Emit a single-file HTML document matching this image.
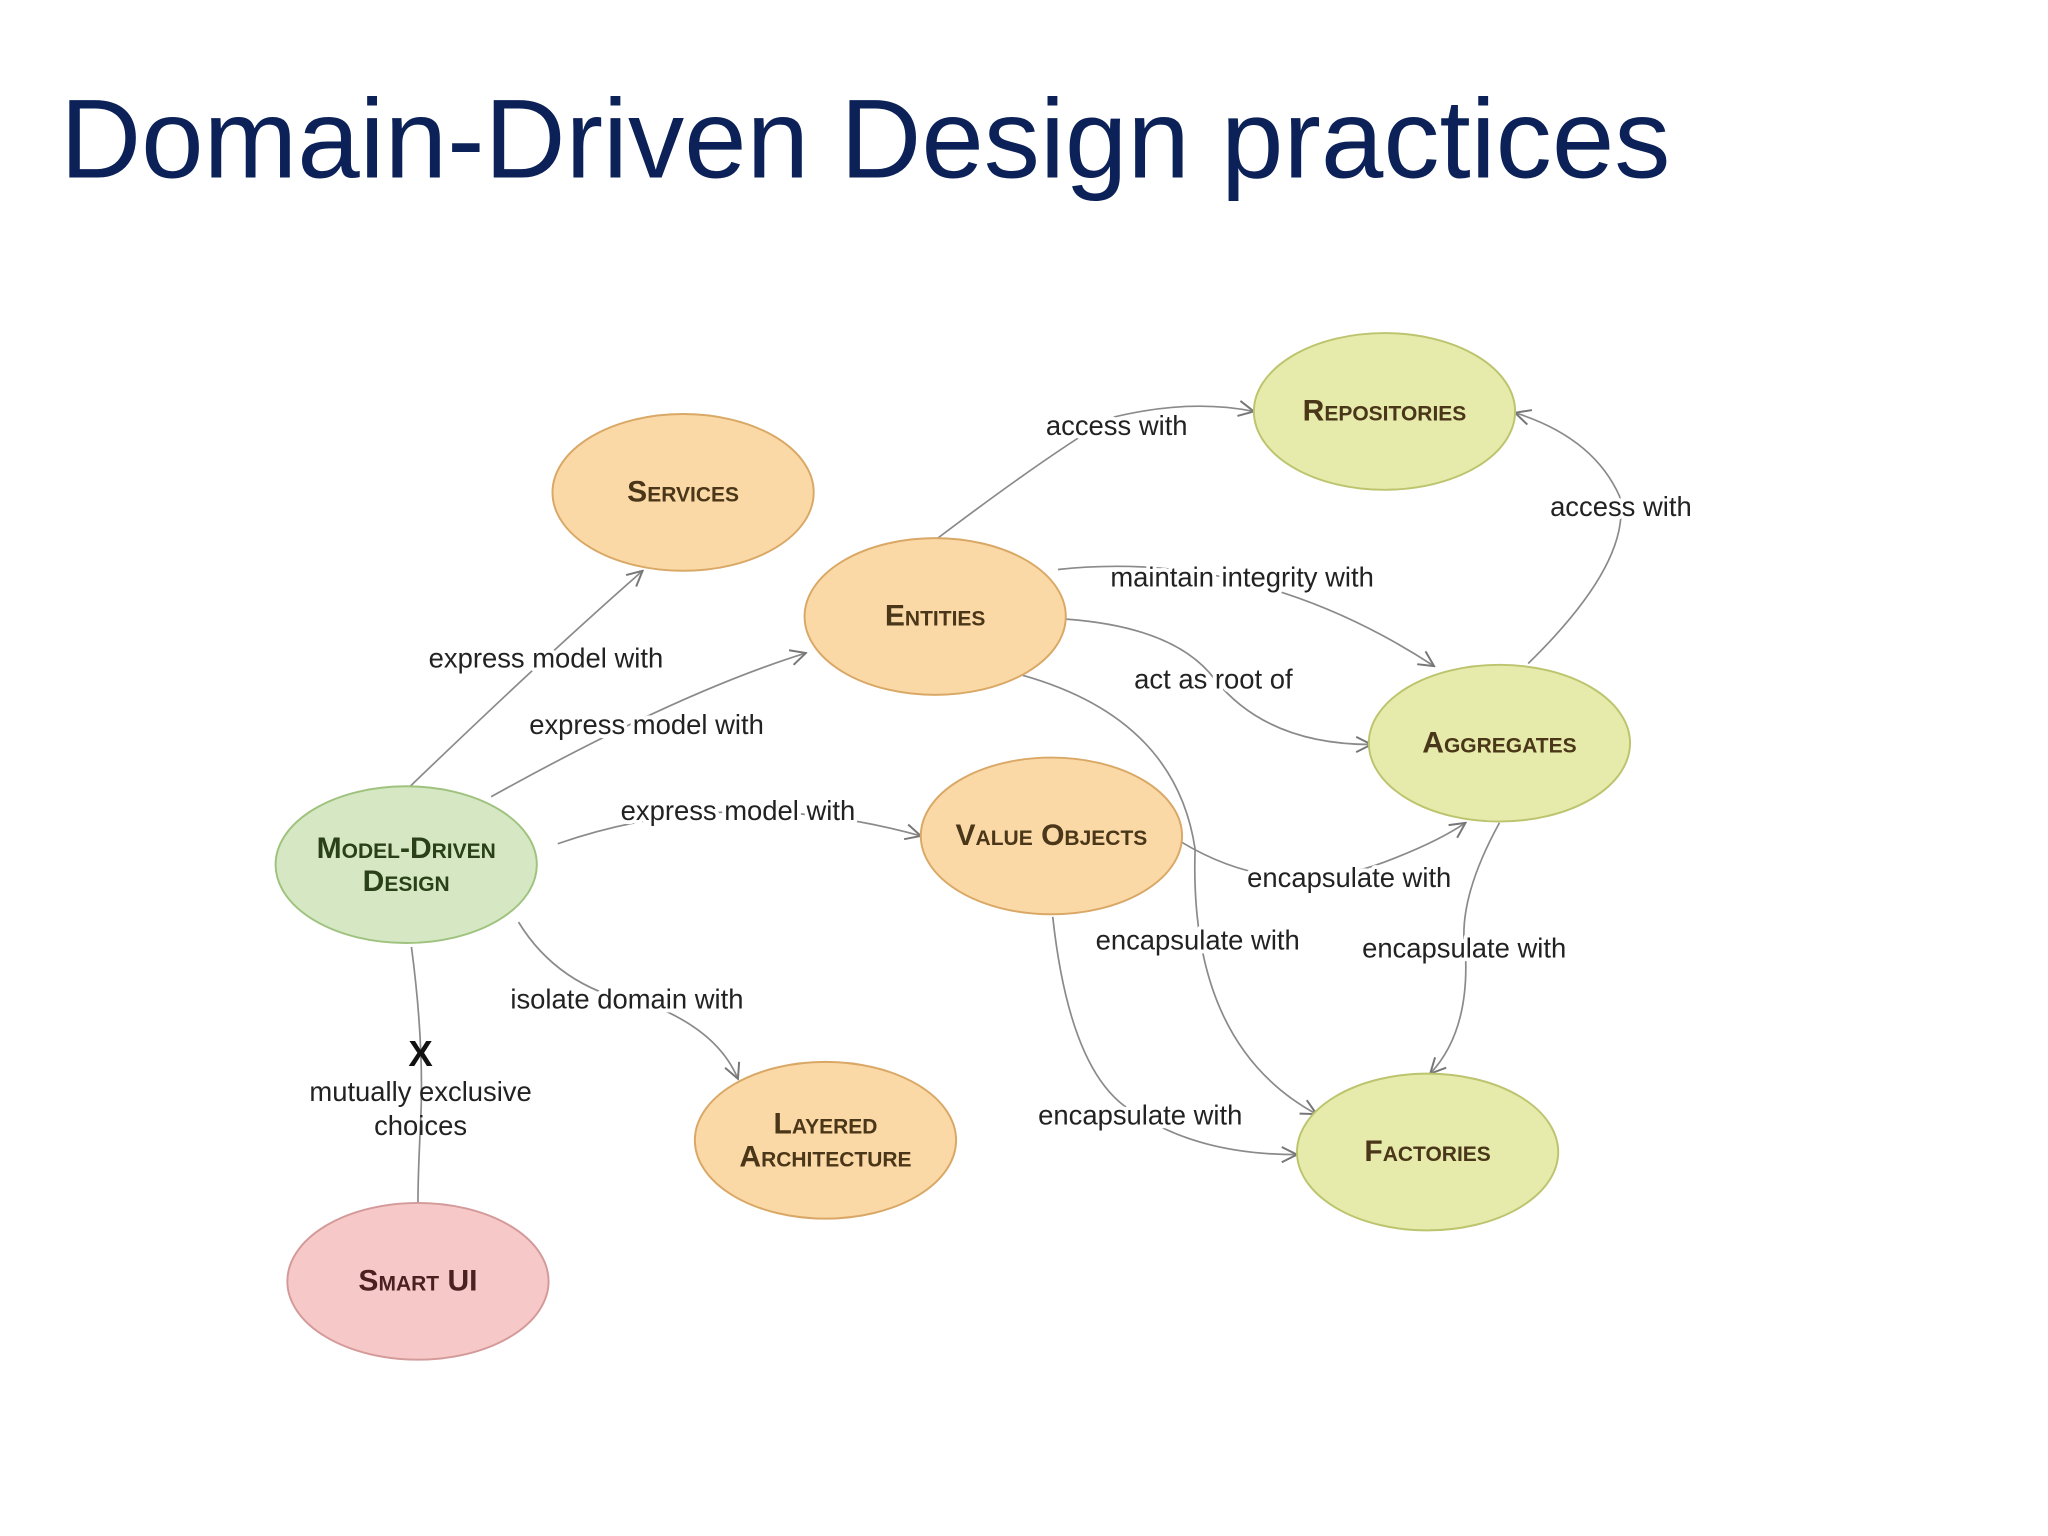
<!DOCTYPE html>
<html><head><meta charset="utf-8"><style>
html,body{margin:0;padding:0;background:#fff}
svg{display:block}
.t{font-family:"Liberation Sans",sans-serif;font-size:21px;fill:#222;text-anchor:middle;paint-order:stroke;stroke:#fff;stroke-width:6px;stroke-linejoin:round}
.n{font-family:"Liberation Sans",sans-serif;font-weight:bold;font-variant:small-caps;font-size:23px;fill:#4a3618;text-anchor:middle}
.e{fill:none;stroke:#8a8a8a;stroke-width:1.3}
</style></head><body>
<svg width="2048" height="1536" viewBox="0 0 1568 1176" xmlns="http://www.w3.org/2000/svg">
<defs><marker id="a" viewBox="0 0 12 12" refX="11" refY="6" markerWidth="14" markerHeight="14" orient="auto" markerUnits="userSpaceOnUse"><polyline points="1,1 11,6 1,11" fill="none" stroke="#777" stroke-width="1.3"/></marker></defs>
<rect width="1568" height="1176" fill="#fff"/>
<text x="46" y="136" font-family="Liberation Sans, sans-serif" font-size="86" fill="#0b2157">Domain-Driven Design practices</text>
<g class="e">
<path d="M313,603 Q420,500 492,437" marker-end="url(#a)"/>
<path d="M376,610 Q520,530 617,500" marker-end="url(#a)"/>
<path d="M427,646 Q560,600 705,640" marker-end="url(#a)"/>
<path d="M397,706 Q430,760 500,770 Q550,790 565,826" marker-end="url(#a)"/>
<path d="M315,725 Q325,800 322,860 Q320,900 320,921"/>
<path d="M718,412 Q800,350 850,320 Q910,305 960,315" marker-end="url(#a)"/>
<path d="M1170,508 Q1250,430 1240,380 Q1220,335 1160,316" marker-end="url(#a)"/>
<path d="M810,436 Q960,420 1098,510" marker-end="url(#a)"/>
<path d="M816,474 Q900,480 930,520 Q970,570 1050,570" marker-end="url(#a)"/>
<path d="M905,645 Q980,690 1060,660 Q1100,645 1122,630" marker-end="url(#a)"/>
<path d="M783,517 Q900,550 915,650 Q910,800 1008,853" marker-end="url(#a)"/>
<path d="M1148,630 Q1115,690 1122,730 Q1125,790 1095,822" marker-end="url(#a)"/>
<path d="M806,702 Q820,830 873,854 Q920,884 993,884" marker-end="url(#a)"/>
</g>
<g>
<ellipse cx="523" cy="377" rx="100" ry="60" fill="#fbd9a6" stroke="#d9a866" stroke-width="1.5"/>
<ellipse cx="716" cy="472" rx="100" ry="60" fill="#fbd9a6" stroke="#d9a866" stroke-width="1.5"/>
<ellipse cx="805" cy="640" rx="100" ry="60" fill="#fbd9a6" stroke="#d9a866" stroke-width="1.5"/>
<ellipse cx="632" cy="873" rx="100" ry="60" fill="#fbd9a6" stroke="#d9a866" stroke-width="1.5"/>
<ellipse cx="1060" cy="315" rx="100" ry="60" fill="#e6eaab" stroke="#bcc46e" stroke-width="1.5"/>
<ellipse cx="1148" cy="569" rx="100" ry="60" fill="#e6eaab" stroke="#bcc46e" stroke-width="1.5"/>
<ellipse cx="1093" cy="882" rx="100" ry="60" fill="#e6eaab" stroke="#bcc46e" stroke-width="1.5"/>
<ellipse cx="311" cy="662" rx="100" ry="60" fill="#d5e8c3" stroke="#9fc27f" stroke-width="1.5"/>
<ellipse cx="320" cy="981" rx="100" ry="60" fill="#f6c9c8" stroke="#d49a9a" stroke-width="1.5"/>
</g>
<text class="n" x="523" y="384">Services</text>
<text class="n" x="716" y="479">Entities</text>
<text class="n" x="805" y="647">Value Objects</text>
<text class="n" x="632" y="868">Layered</text>
<text class="n" x="632" y="893">Architecture</text>
<text class="n" x="1060" y="322">Repositories</text>
<text class="n" x="1148" y="576">Aggregates</text>
<text class="n" x="1093" y="889">Factories</text>
<text class="n" x="311" y="657" style="fill:#2a4018">Model-Driven</text>
<text class="n" x="311" y="682" style="fill:#2a4018">Design</text>
<text class="n" x="320" y="988" style="fill:#4a2020">Smart UI</text>
<text class="t" x="418" y="511">express model with</text>
<text class="t" x="495" y="562">express model with</text>
<text class="t" x="565" y="628">express model with</text>
<text class="t" x="480" y="772">isolate domain with</text>
<text x="322" y="816" font-family="Liberation Sans, sans-serif" font-weight="bold" font-size="28" text-anchor="middle" fill="#111">X</text>
<text class="t" x="322" y="843" style="stroke:none">mutually exclusive</text>
<text class="t" x="322" y="869" style="stroke:none">choices</text>
<text class="t" x="855" y="333">access with</text>
<text class="t" x="1241" y="395">access with</text>
<text class="t" x="951" y="449">maintain integrity with</text>
<text class="t" x="929" y="527">act as root of</text>
<text class="t" x="1033" y="679">encapsulate with</text>
<text class="t" x="917" y="727">encapsulate with</text>
<text class="t" x="1121" y="733">encapsulate with</text>
<text class="t" x="873" y="861">encapsulate with</text>
</svg>
</body></html>
